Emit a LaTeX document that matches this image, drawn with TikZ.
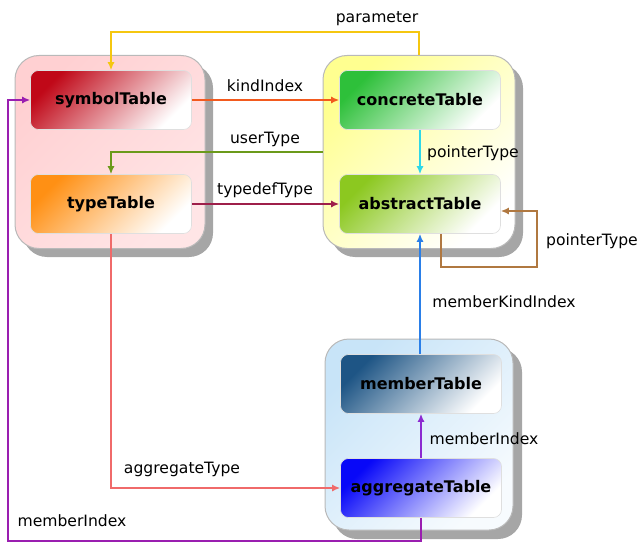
\documentclass[tikz,border=0pt]{standalone}
\usepackage{fontspec}
\setmainfont{DejaVu Sans}
\usetikzlibrary{arrows.meta}
\definecolor{cpar}{HTML}{F5C710}
\definecolor{ckind}{HTML}{F25A1E}
\definecolor{cuser}{HTML}{6B9A1A}
\definecolor{ctdef}{HTML}{9E1F4A}
\definecolor{cptr}{HTML}{2ED8E8}
\definecolor{cloop}{HTML}{B07840}
\definecolor{cmki}{HTML}{2A7FE8}
\definecolor{cmi}{HTML}{8C2AD0}
\definecolor{cagg}{HTML}{F06A6A}
\definecolor{cmo}{HTML}{9A1EB0}
\definecolor{fsym}{HTML}{C00818}
\definecolor{ftype}{HTML}{FF9014}
\definecolor{fconc}{HTML}{2EC03A}
\definecolor{fabs}{HTML}{8CC820}
\definecolor{fmem}{HTML}{1E5585}
\definecolor{fagg}{HTML}{0808F8}
\definecolor{gpink}{HTML}{FFD0D2}
\definecolor{gyel}{HTML}{FFFF90}
\definecolor{gblue}{HTML}{C8E4F8}
\begin{document}
\begin{tikzpicture}[x=1pt,y=-1pt,
  grp/.style={draw=gray!55, line width=1pt, rounded corners=24pt, minimum width=190pt, minimum height=193pt, inner sep=0pt},
  shad/.style={fill=gray!70, rounded corners=24pt, draw=none},
  tbl/.style={draw=gray!25, line width=0.6pt, rounded corners=8pt, minimum width=161pt, minimum height=59pt, inner sep=0pt,
     font=\bfseries\fontsize{16}{19}\selectfont},
  lbl/.style={font=\fontsize{15.6}{18}\selectfont, inner sep=0pt},
  con/.style={line width=2pt, -{Latex[length=8pt,width=7pt]}},
]
\useasboundingbox (0,0) rectangle (640,543);
% shadows
\fill[shad] (23,64) rectangle (213,257);
\fill[shad] (331,64) rectangle (523,257);
\fill[shad] (333,348) rectangle (522,539);
% groups
\node[grp, top color=gpink, bottom color=gpink!55, shading angle=45] (g1) at (110,152) {};
\node[grp, top color=gyel, bottom color=white, shading angle=45, minimum width=192pt] (g2) at (419,152) {};
\node[grp, top color=gblue, bottom color=white!85!gblue, shading angle=45, minimum width=188pt, minimum height=191pt] (g3) at (419,434.5) {};
% tables
\node[tbl, top color=fsym, bottom color=white, shading angle=45] (sym) at (111,100) {symbolTable};
\node[tbl, top color=ftype, bottom color=white, shading angle=45] (type) at (111,204) {typeTable};
\node[tbl, top color=fconc, bottom color=white, shading angle=45] (conc) at (420,100) {concreteTable};
\node[tbl, top color=fabs, bottom color=white, shading angle=45] (abs) at (420,204) {abstractTable};
\node[tbl, top color=fmem, bottom color=white, shading angle=45] (mem) at (421,384) {memberTable};
\node[tbl, top color=fagg, bottom color=white, shading angle=45] (agg) at (421,488) {aggregateTable};
% helper coordinates
\coordinate (ptop) at (419,32);
\coordinate (lp1) at (441,267);
\coordinate (lp2) at (537,211);
\coordinate (bl) at (8,541);
% connectors
\draw[con, cpar] (g2.north) -- (ptop) -| (sym.north);
\draw[con, ckind] (sym.east) -- (conc.west);
\draw[con, cuser] (g2.west) -| (type.north);
\draw[con, ctdef] (type.east) -- (abs.west);
\draw[con, cptr] (conc.south) -- (abs.north);
\draw[con, cloop] (abs.south -| lp1) |- (lp2 |- lp1) -- (lp2) -- (abs.east |- lp2);
\draw[con, cmki] (mem.north -| abs.south) -- (abs.south);
\draw[con, cmi] (agg.north) -- (mem.south);
\draw[con, cagg] (type.south) |- (agg.west);
\draw[con, cmo] (agg.south) |- (bl) |- (sym.west);
% labels
\node[lbl] (lpar) at (377,19) {parameter};
\node[lbl] (lkind) at (265,86) {kindIndex};
\node[lbl] (luser) at (265,139) {userType};
\node[lbl] (ltdef) at (265,190) {typedefType};
\node[lbl] (lptr) at (473,153) {pointerType};
\node[lbl] (lloop) at (592,241) {pointerType};
\node[lbl] (lmki) at (504,302) {memberKindIndex};
\node[lbl] (lmi) at (484,439) {memberIndex};
\node[lbl] (lagg) at (182,469) {aggregateType};
\node[lbl] (lmo) at (72,521) {memberIndex};
\end{tikzpicture}
\end{document}
